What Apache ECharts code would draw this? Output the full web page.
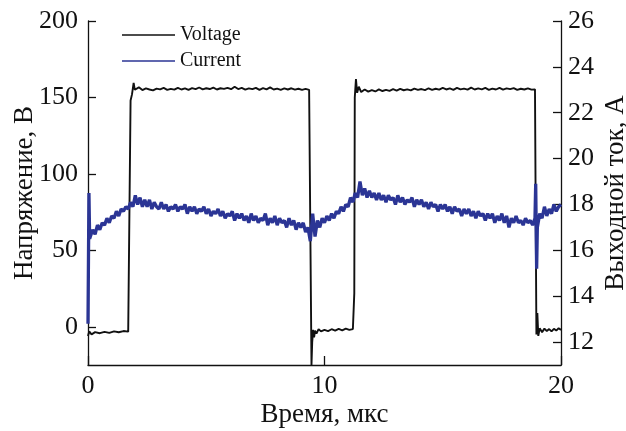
<!DOCTYPE html>
<html>
<head>
<meta charset="utf-8">
<script src="https://cdn.jsdelivr.net/npm/echarts@6/dist/echarts.min.js"></script>
<style>
  html, body { margin: 0; padding: 0; background: #fff; }
  #chart { width: 626px; height: 431px; }
</style>
</head>
<body>
<div id="chart"></div>
<script>
// Output voltage (V) of the inverter, sampled in microseconds
const voltageTime = [
  0, 0.05, 0.15, 0.3, 0.5, 0.7, 0.9, 1.1, 1.3, 1.5, 1.7, 1.78, 1.8, 1.86, 1.93, 1.98,
  2.0, 2.15, 2.3, 2.45, 2.6, 2.75, 2.9, 3.05, 3.2, 3.35, 3.5, 3.65, 3.8, 3.95, 4.1, 4.25,
  4.4, 4.55, 4.7, 4.85, 5.0, 5.15, 5.3, 5.45, 5.6, 5.75, 5.9, 6.05, 6.2, 6.35, 6.5, 6.65,
  6.8, 6.95, 7.1, 7.25, 7.4, 7.55, 7.7, 7.85, 8.0, 8.15, 8.3, 8.45, 8.6, 8.75, 8.9, 9.05,
  9.2, 9.35, 9.4, 9.45, 9.48, 9.52, 9.56, 9.6, 9.66, 9.75, 9.85, 10.0, 10.15, 10.3, 10.45, 10.6,
  10.75, 10.9, 11.05, 11.2, 11.24, 11.26, 11.28, 11.33, 11.38, 11.45, 11.55, 11.7, 11.85, 12.0, 12.15, 12.3,
  12.45, 12.6, 12.75, 12.9, 13.05, 13.2, 13.35, 13.5, 13.65, 13.8, 13.95, 14.1, 14.25, 14.4, 14.55, 14.7,
  14.85, 15.0, 15.15, 15.3, 15.45, 15.6, 15.75, 15.9, 16.05, 16.2, 16.35, 16.5, 16.65, 16.8, 16.95, 17.1,
  17.25, 17.4, 17.55, 17.7, 17.85, 18.0, 18.15, 18.3, 18.45, 18.6, 18.75, 18.9, 18.93, 18.96, 19.0, 19.04,
  19.1, 19.2, 19.3, 19.4, 19.5, 19.6, 19.7, 19.8, 19.9, 20.0
];
const voltageValues = [
  -6, -3, -5, -3.5, -4.2, -3.3, -4, -3, -3.6, -2.8, -3.2, -2.5, 148, 152, 159.5, 155,
  155.5, 156.6, 154.8, 155.9, 155.2, 154.6, 155.8, 155.3, 156.2, 155.0, 155.6, 155.1, 156.3, 155.2, 155.9, 154.9,
  156.1, 155.4, 156.5, 155.3, 156.0, 155.5, 156.4, 155.2, 156.0, 155.6, 156.3, 155.4, 157.0, 155.5, 156.2, 155.1,
  155.9, 155.4, 156.3, 155.0, 156.1, 155.3, 156.6, 155.2, 155.8, 155.0, 155.9, 155.2, 156.0, 155.1, 155.7, 155.0,
  155.6, 155.0, 154.5, -25, -10, -2, -7, -2.5, -4.5, -1.5, -3, -2, -2.8, -1.6, -2.5, -1.4,
  -2.3, -1.2, -2, -1.5, -1.8, 22, 150, 162, 153, 157, 153.5, 155.2, 153.8, 154.8, 153.9, 155.3,
  154.2, 155.0, 154.3, 155.4, 154.5, 155.6, 154.7, 155.3, 154.6, 155.8, 154.9, 155.5, 154.8, 156.0, 155.0, 155.7,
  155.1, 156.2, 155.2, 155.9, 155.0, 156.3, 155.3, 155.8, 155.1, 156.4, 155.2, 155.9, 155.3, 156.2, 155.0, 155.8,
  155.2, 156.3, 155.1, 155.9, 155.4, 156.1, 155.0, 155.7, 155.2, 155.9, 155.1, 155.3, 154.5, -5, 9, -6,
  -1, -3.5, -1.2, -2.8, -1.5, -3, -1.3, -2.5, -1.0, -2
];

// Output current (A), sampled in microseconds
const currentTime = [
  0, 0.04, 0.07,
  0.1, 0.2, 0.3, 0.4, 0.5, 0.6, 0.7, 0.8, 0.9, 1.0, 1.1, 1.2, 1.3, 1.4, 1.5, 1.6, 1.7, 1.8, 1.9, 2.0,
  2.1, 2.2, 2.3, 2.4, 2.5, 2.6, 2.7, 2.8, 2.9, 3.0, 3.1, 3.2, 3.3, 3.4, 3.5, 3.6, 3.7, 3.8, 3.9, 4.0,
  4.1, 4.2, 4.3, 4.4, 4.5, 4.6, 4.7, 4.8, 4.9, 5.0, 5.1, 5.2, 5.3, 5.4, 5.5, 5.6, 5.7, 5.8, 5.9, 6.0,
  6.1, 6.2, 6.3, 6.4, 6.5, 6.6, 6.7, 6.8, 6.9, 7.0, 7.1, 7.2, 7.3, 7.4, 7.5, 7.6, 7.7, 7.8, 7.9, 8.0,
  8.1, 8.2, 8.3, 8.4, 8.5, 8.6, 8.7, 8.8, 8.9, 9.0, 9.1, 9.2, 9.3, 9.4, 9.5, 9.6, 9.7, 9.8, 9.9, 10.0,
  10.1, 10.2, 10.3, 10.4, 10.5, 10.6, 10.7, 10.8, 10.9, 11.0, 11.1, 11.2, 11.3, 11.4, 11.5, 11.6, 11.7, 11.8, 11.9, 12.0,
  12.1, 12.2, 12.3, 12.4, 12.5, 12.6, 12.7, 12.8, 12.9, 13.0, 13.1, 13.2, 13.3, 13.4, 13.5, 13.6, 13.7, 13.8, 13.9, 14.0,
  14.1, 14.2, 14.3, 14.4, 14.5, 14.6, 14.7, 14.8, 14.9, 15.0, 15.1, 15.2, 15.3, 15.4, 15.5, 15.6, 15.7, 15.8, 15.9, 16.0,
  16.1, 16.2, 16.3, 16.4, 16.5, 16.6, 16.7, 16.8, 16.9, 17.0, 17.1, 17.2, 17.3, 17.4, 17.5, 17.6, 17.7, 17.8, 17.9, 18.0,
  18.1, 18.2, 18.3, 18.4, 18.5, 18.6, 18.7, 18.8, 18.9, 18.93, 18.97, 19.0,
  19.1, 19.2, 19.3, 19.4, 19.5, 19.6, 19.7, 19.8, 19.9, 20.0
];
const currentValues = [
  12.8, 18.5, 16.5,
  16.6, 16.9, 16.7, 17.1, 16.9, 17.2, 17.1, 17.4, 17.2, 17.5, 17.4, 17.7, 17.5, 17.8, 17.7, 17.9, 17.8, 18.1, 17.9, 18.4,
  18.0, 18.3, 17.9, 18.2, 17.9, 18.2, 17.8, 18.1, 17.9, 17.8, 18.1, 17.8, 18.0, 17.7, 17.9, 17.8, 18.0, 17.7, 17.9, 17.8,
  18.0, 17.6, 17.9, 17.7, 17.9, 17.6, 17.8, 17.7, 17.9, 17.6, 17.8, 17.5, 17.7, 17.6, 17.8, 17.5, 17.7, 17.4, 17.6, 17.5,
  17.7, 17.3, 17.6, 17.4, 17.6, 17.3, 17.5, 17.2, 17.6, 17.3, 17.5, 17.2, 17.4, 17.3, 17.6, 17.1, 17.4, 17.2, 17.5, 17.1,
  17.4, 17.2, 17.3, 17.0, 17.4, 17.1, 17.3, 16.9, 17.2, 17.0, 17.2, 16.8, 17.0, 16.4, 17.6, 16.6, 17.3, 17.0, 17.4, 17.2,
  17.5, 17.3, 17.6, 17.4, 17.7, 17.6, 17.9, 17.7, 18.0, 17.9, 18.3, 18.1, 18.5, 18.3, 19.0, 18.4, 18.7, 18.3, 18.6, 18.3,
  18.5, 18.2, 18.5, 18.2, 18.4, 18.1, 18.4, 18.2, 18.3, 18.0, 18.4, 18.1, 18.3, 18.0, 18.2, 18.1, 18.3, 17.9, 18.2, 18.0,
  18.2, 17.9, 18.1, 17.8, 18.1, 17.9, 18.0, 17.7, 18.0, 17.8, 18.0, 17.7, 17.9, 17.6, 17.9, 17.7, 17.8, 17.5, 17.8, 17.6,
  17.8, 17.5, 17.7, 17.4, 17.7, 17.5, 17.6, 17.3, 17.6, 17.4, 17.6, 17.2, 17.5, 17.3, 17.6, 17.2, 17.5, 17.0, 17.4, 17.2,
  17.5, 17.2, 17.3, 17.1, 17.4, 17.2, 17.3, 17.1, 17.4, 18.9, 15.2, 17.0,
  17.6, 17.4, 17.9, 17.5, 17.8, 17.6, 18.0, 17.7, 17.9, 18.0
];

// Axis ticks
const timeTicks = [0, 10, 20];
const voltageTicks = [0, 50, 100, 150, 200];
const currentTicks = [12, 14, 16, 18, 20, 22, 24, 26];

const FONT = 'Liberation Serif';
const zip = (xs, ys) => xs.map((x, i) => [x, ys[i]]);

const axisLine = { show: true, onZero: false, lineStyle: { color: '#111', width: 1.3 } };
const tickStyle = { color: '#111', width: 1.3 };
const labelText = { fontFamily: FONT, fontSize: 26, color: '#111' };
const nameText = { fontFamily: FONT, fontSize: 27, color: '#111' };

const chart = echarts.init(document.getElementById('chart'), null, { renderer: 'canvas' });
chart.setOption({
  backgroundColor: '#fff',
  animation: false,
  grid: { left: 88, right: 65, top: 21, bottom: 66, containLabel: false, outerBoundsMode: 'none' },
  legend: {
    data: ['Voltage', 'Current'],
    orient: 'vertical',
    left: 117,
    top: 20,
    icon: 'rect',
    itemWidth: 53,
    itemHeight: 1.6,
    itemGap: 6,
    textStyle: { fontFamily: FONT, fontSize: 20, color: '#111', lineHeight: 16 }
  },
  xAxis: {
    type: 'value',
    min: 0,
    max: 20,
    interval: 10,
    name: 'Время, мкс',
    nameLocation: 'middle',
    nameGap: 36,
    nameMoveOverlap: false,
    nameTextStyle: nameText,
    axisLine: axisLine,
    axisTick: { show: true, inside: true, length: 9, lineStyle: tickStyle, customValues: timeTicks },
    axisLabel: Object.assign({ margin: 8, customValues: timeTicks }, labelText),
    splitLine: { show: false }
  },
  yAxis: [
    {
      type: 'value',
      position: 'left',
      min: -25,
      max: 200,
      name: 'Напряжение, В',
      nameLocation: 'middle',
      nameRotate: 90,
      nameGap: 50,
      nameMoveOverlap: false,
      nameTextStyle: nameText,
      axisLine: axisLine,
      axisTick: { show: true, inside: true, length: 8, lineStyle: tickStyle, customValues: voltageTicks },
      axisLabel: Object.assign({ margin: 10, customValues: voltageTicks }, labelText),
      splitLine: { show: false }
    },
    {
      type: 'value',
      position: 'right',
      min: 11,
      max: 26,
      name: 'Выходной ток, А',
      nameLocation: 'middle',
      nameRotate: 90,
      nameGap: 41,
      nameMoveOverlap: false,
      nameTextStyle: nameText,
      axisLine: axisLine,
      axisTick: { show: true, inside: true, length: 8, lineStyle: tickStyle, customValues: currentTicks },
      axisLabel: Object.assign({ margin: 7, customValues: currentTicks }, labelText),
      splitLine: { show: false }
    }
  ],
  series: [
    {
      name: 'Voltage',
      type: 'line',
      yAxisIndex: 0,
      data: zip(voltageTime, voltageValues),
      showSymbol: false,
      color: '#111',
      lineStyle: { color: '#111', width: 1.9 },
      z: 2
    },
    {
      name: 'Current',
      type: 'line',
      yAxisIndex: 1,
      data: zip(currentTime, currentValues),
      showSymbol: false,
      color: '#2b3595',
      lineStyle: { color: '#2b3595', width: 3.3 },
      z: 3
    }
  ]
});
</script>
</body>
</html>
